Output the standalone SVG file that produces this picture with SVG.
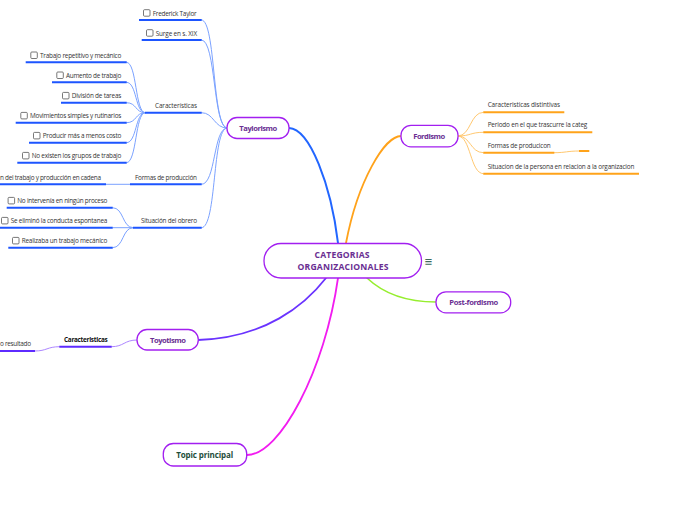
<svg xmlns="http://www.w3.org/2000/svg" width="696" height="520" viewBox="0 0 696 520">
<style>
.node{fill:#fff;stroke:#a21ff0;stroke-width:1.3}
.nt{font-family:"Open Sans","Noto Sans",sans-serif;font-weight:bold;fill:#6a2e92;text-anchor:middle}
.t{font-family:"Open Sans","Noto Sans",sans-serif;font-size:6.4px;fill:#333}
.cb{fill:#fff;stroke:#555;stroke-width:0.8}
.ulb{stroke:#1d55ff;stroke-width:2;fill:none}
.lb{stroke:#7ba2ff;stroke-width:1;fill:none}
.ulo{stroke:#ffa31a;stroke-width:2;fill:none}
.lo{stroke:#ffc870;stroke-width:1;fill:none}
.ulp{stroke:#5e2bff;stroke-width:2;fill:none}
.lp{stroke:#ad86ff;stroke-width:1;fill:none}
</style>
<rect width="696" height="520" fill="#fff"/>
<g id="connectors" fill="none" stroke-linecap="round">
  <path d="M289,128 C310,129 331,185 338,243" stroke="#2266ff" stroke-width="2"/>
  <path d="M401,136 C385,136 358,180 346,243" stroke="#ffa21a" stroke-width="1.8"/>
  <path d="M367,278 C385,295 410,302 436,302" stroke="#96ee2e" stroke-width="1.6"/>
  <path d="M326,278 C305,305 265,338 198,340" stroke="#6a33ff" stroke-width="1.8"/>
  <path d="M338,278 C325,370 280,455 247,455" stroke="#f21cf0" stroke-width="1.8"/>
  <path class="lb" d="M201.7,20 C216,20 212,128 227,128"/>
  <path class="lb" d="M201.7,40 C216,40 213,128 227,128"/>
  <path class="lb" d="M201.7,112.7 C214,112.7 214,128 227,128"/>
  <path class="lb" d="M201.7,184.3 C216,184.3 213,128 227,128"/>
  <path class="lb" d="M201.7,227.7 C217,227.7 212,128 227,128"/>
  <path class="lb" d="M126.7,62.3 C137,62.3 135,112.7 145,112.7"/>
  <path class="lb" d="M126.7,82.3 C137,82.3 135,112.7 145,112.7"/>
  <path class="lb" d="M126.7,102.7 C137,102.7 135,112.7 145,112.7"/>
  <path class="lb" d="M126.7,122.7 C137,122.7 135,112.7 145,112.7"/>
  <path class="lb" d="M126.7,142.7 C137,142.7 135,112.7 145,112.7"/>
  <path class="lb" d="M126.7,162.7 C137,162.7 135,112.7 145,112.7"/>
  <path class="lb" d="M106,184.3 L130,184.3"/>
  <path class="lb" d="M112.7,207.7 C124,207.7 122,227.7 133,227.7"/>
  <path class="lb" d="M112.7,227.7 L133,227.7"/>
  <path class="lb" d="M112.7,247.7 C124,247.7 122,227.7 133,227.7"/>
  <path class="lo" d="M458,136 C471,136 470,112.3 483.3,112.3"/>
  <path class="lo" d="M458,136 C471,136 470,132.3 483.3,132.3"/>
  <path class="lo" d="M458,136 C471,136 470,152.7 483.3,152.7"/>
  <path class="lo" d="M458,136 C471,136 470,173.7 483.3,173.7"/>
  <path class="lo" d="M554.3,152.7 C566,152.7 567,151 579,151"/>
  <path class="lp" d="M137,340 C124,340 124,346.7 111.7,346.7"/>
  <path class="lp" d="M35,351 C47,351 47,346.7 59.3,346.7"/>
</g>
<g id="central">
  <rect class="node" x="264" y="243.5" width="157.5" height="34.5" rx="17"/>
  <text class="nt" x="342" y="258.3" font-size="8.6" textLength="55">CATEGORIAS</text>
  <text class="nt" x="343" y="270" font-size="8.6" textLength="91">ORGANIZACIONALES</text>
  <text x="428.5" y="264.5" font-family="DejaVu Sans,sans-serif" font-size="10" font-weight="bold" fill="#3d6b5c" text-anchor="middle">≡</text>
</g>
<g id="taylorismo">
  <rect class="node" x="227" y="117.5" width="62" height="21" rx="10"/>
  <text class="nt" x="258.3" y="131" font-size="7.6" textLength="38">Taylorismo</text>
</g>
<g id="fordismo">
  <rect class="node" x="401" y="125.3" width="57" height="21.5" rx="10"/>
  <text class="nt" x="429.2" y="139" font-size="7.6" textLength="32">Fordismo</text>
</g>
<g id="postfordismo">
  <rect class="node" x="436" y="291.8" width="74.7" height="21" rx="10"/>
  <text class="nt" x="473.8" y="305" font-size="7.6" textLength="49">Post-fordismo</text>
</g>
<g id="toyotismo">
  <rect class="node" x="137" y="329.5" width="61.3" height="20.5" rx="10"/>
  <text class="nt" x="168" y="343" font-size="7.6" textLength="36">Toyotismo</text>
</g>
<g id="topic">
  <rect class="node" x="163.3" y="443.5" width="83.4" height="22.5" rx="10"/>
  <text class="nt" x="204.7" y="458" font-size="8" style="fill:#1e4d3a" textLength="57">Topic principal</text>
</g>
<g id="t-frederick">
  <path class="ulb" d="M139,20 H201.7"/><rect class="cb" x="143.5" y="9.7" width="6.5" height="6.5" rx="1"/>
  <text class="t" x="152.7" y="15.5" textLength="44">Frederick Taylor</text>
</g>
<g id="t-surge">
  <path class="ulb" d="M141.7,40 H201.7"/><rect class="cb" x="146.5" y="29.7" width="6.5" height="6.5" rx="1"/>
  <text class="t" x="155.7" y="35.5" textLength="41.5">Surge en s. XIX</text>
</g>
<g id="t-caracteristicas">
  <path class="ulb" d="M145,112.7 H201.7"/>
  <text class="t" x="155" y="108.2" textLength="42">Características</text>
</g>
<g id="t-formas">
  <path class="ulb" d="M130,184.3 H201.7"/>
  <text class="t" x="135" y="179.8" textLength="62">Formas de producción</text>
</g>
<g id="t-situacion">
  <path class="ulb" d="M133,227.7 H201.7"/>
  <text class="t" x="141" y="223.2" textLength="56">Situación del obrero</text>
</g>
<g id="c-trabajo">
  <path class="ulb" d="M25.7,62.3 H126.7"/><rect class="cb" x="30.8" y="52" width="6.5" height="6.5" rx="1"/>
  <text class="t" x="40" y="57.8" textLength="81.3">Trabajo repetitivo y mecánico</text>
</g>
<g id="c-aumento">
  <path class="ulb" d="M52,82.3 H126.7"/><rect class="cb" x="56.8" y="72" width="6.5" height="6.5" rx="1"/>
  <text class="t" x="66" y="77.8" textLength="55.3">Aumento de trabajo</text>
</g>
<g id="c-division">
  <path class="ulb" d="M61,102.7 H126.7"/><rect class="cb" x="62.5" y="92.4" width="6.5" height="6.5" rx="1"/>
  <text class="t" x="71.7" y="98.2" textLength="49.6">División de tareas</text>
</g>
<g id="c-movimientos">
  <path class="ulb" d="M15.7,122.7 H126.7"/><rect class="cb" x="20.8" y="112.4" width="6.5" height="6.5" rx="1"/>
  <text class="t" x="30" y="118.2" textLength="91.3">Movimientos simples y rutinarios</text>
</g>
<g id="c-producir">
  <path class="ulb" d="M29,142.7 H126.7"/><rect class="cb" x="33.5" y="132.4" width="6.5" height="6.5" rx="1"/>
  <text class="t" x="42.7" y="138.2" textLength="78.6">Producir más a menos costo</text>
</g>
<g id="c-grupos">
  <path class="ulb" d="M17.3,162.7 H126.7"/><rect class="cb" x="22.5" y="152.4" width="6.5" height="6.5" rx="1"/>
  <text class="t" x="31.7" y="158.2" textLength="89.6">No existen los grupos de trabajo</text>
</g>
<g id="f-cadena">
  <path class="ulb" d="M0,184.3 H106"/>
  <text class="t" x="0" y="179.8" textLength="101">n del trabajo y producción en cadena</text>
</g>
<g id="s-intervenia">
  <path class="ulb" d="M6.7,207.7 H112.7"/><rect class="cb" x="8.1" y="197.4" width="6.5" height="6.5" rx="1"/>
  <text class="t" x="17.3" y="203.2" textLength="90">No intervenía en ningún proceso</text>
</g>
<g id="s-elimino">
  <path class="ulb" d="M0,227.7 H112.7"/><rect class="cb" x="1.5" y="217.4" width="6.5" height="6.5" rx="1"/>
  <text class="t" x="10.7" y="223.2" textLength="96.6">Se eliminó la conducta espontanea</text>
</g>
<g id="s-realizaba">
  <path class="ulb" d="M8.3,247.7 H112.7"/><rect class="cb" x="12.5" y="237.4" width="6.5" height="6.5" rx="1"/>
  <text class="t" x="21.7" y="243.2" textLength="85.6">Realizaba un trabajo mecánico</text>
</g>
<g id="fo-caract">
  <path class="ulo" d="M483.3,112.3 H564.3"/>
  <text class="t" x="487.7" y="107.3" textLength="72.3">Caracteristicas distintivas</text>
</g>
<g id="fo-periodo">
  <path class="ulo" d="M483.3,132.3 H592.3"/>
  <text class="t" x="487.7" y="127.3" textLength="99.6">Periodo en el que trascurre la categ</text>
</g>
<g id="fo-formas">
  <path class="ulo" d="M483.3,152.7 H554.3"/>
  <text class="t" x="487.7" y="147.7" textLength="63">Formas de producicon</text>
</g>
<g id="fo-formas-empty">
  <path class="ulo" d="M579,151 H589.3"/>
</g>
<g id="fo-situacion">
  <path class="ulo" d="M483.3,173.7 H639"/>
  <text class="t" x="487.7" y="168.7" textLength="146.6">Situacion de la persona en relacion a la organizacion</text>
</g>
<g id="to-caract">
  <path class="ulp" d="M59.3,346.7 H111.7"/>
  <text class="t" x="64" y="342.3" font-weight="bold" style="fill:#111" textLength="43.7">Caracteristicas</text>
</g>
<g id="to-resultado">
  <path class="ulp" d="M0,351 H35"/>
  <text class="t" x="0" y="345.7" textLength="31">o resultado</text>
</g>
</svg>
